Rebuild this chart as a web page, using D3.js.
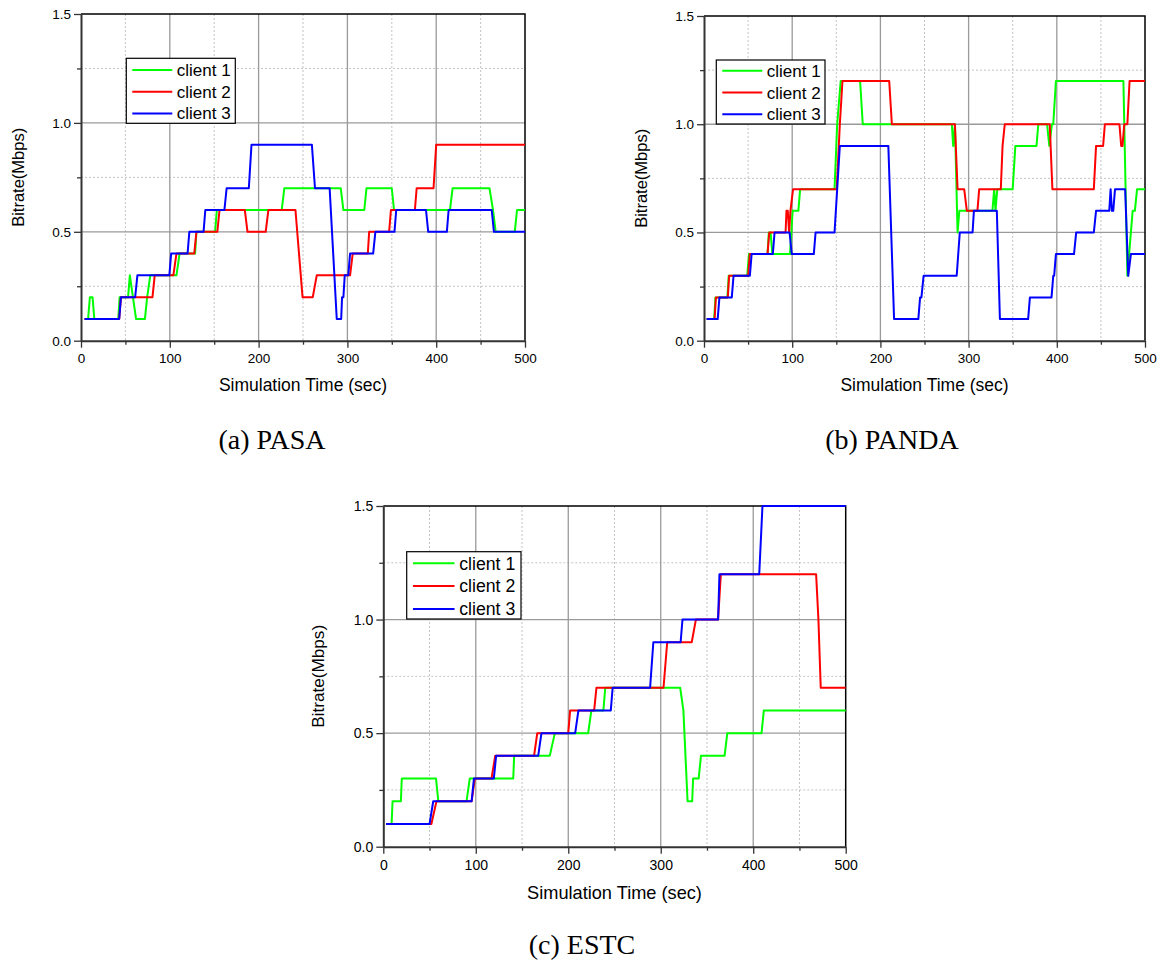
<!DOCTYPE html>
<html>
<head>
<meta charset="utf-8">
<script src="https://cdn.jsdelivr.net/npm/d3@7"></script>
<style>
  body { margin: 0; background: #fff; }
  svg { display: block; font-family: "Liberation Sans", Arial, sans-serif; }
  .caption { font-family: "Liberation Serif", "Times New Roman", serif; }
</style>
</head>
<body>
<svg id="fig" width="1164" height="963"></svg>
<script>

/* bitrate of three clients, three adaptation schemes */

// legend names and line colours

var clientNames = ["client 1", "client 2", "client 3"];
var clientColors = ["#00ff00", "#ff0000", "#0000ff"];

// tick values

var xTicks = [0, 100, 200, 300, 400, 500],
    xMinor = [50, 150, 250, 350, 450],
    yTicks = [0.0, 0.5, 1.0, 1.5],
    yMinor = [0.25, 0.75, 1.25];

// series: [time (sec), bitrate (Mbps)]

var pasa1 = [[4,0.1],[8,0.1],[10,0.2],[13,0.2],[15,0.1],[42,0.1],[43.5,0.2],[53,0.2],[55,0.3],[62,0.1],[72,0.1],
  [74.5,0.2],[78,0.3],[107.5,0.3],[111,0.4],[128.5,0.4],[130,0.5],[151,0.5],[153,0.6],[226,0.6],[229,0.7],
  [292.5,0.7],[295.5,0.6],[319,0.6],[321.5,0.7],[350,0.7],[352.5,0.6],[415.5,0.6],[418.5,0.7],[460,0.7],
  [464,0.6],[467,0.5],[488.5,0.5],[491,0.6],[500,0.6]];
var pasa2 = [[4,0.1],[43,0.1],[45,0.2],[80.5,0.2],[83,0.3],[104,0.3],[107.5,0.4],[127.5,0.4],[130,0.5],
  [153.5,0.5],[156,0.6],[184.5,0.6],[187.5,0.5],[208,0.5],[211,0.6],[241.5,0.6],[249.5,0.2],[261,0.2],
  [265.5,0.3],[303,0.3],[306,0.4],[323,0.4],[324.5,0.5],[347,0.5],[349,0.6],[376,0.6],[378,0.7],[397,0.7],
  [400,0.9],[500,0.9]];
var pasa3 = [[4,0.1],[43,0.1],[45,0.2],[61,0.2],[63.5,0.3],[99.5,0.3],[101.5,0.4],[120,0.4],[122,0.5],
  [138,0.5],[140,0.6],[161.5,0.6],[164,0.7],[189,0.7],[192,0.9],[260,0.9],[263.5,0.7],[280,0.7],[288,0.1],
  [293,0.1],[294,0.2],[295.5,0.2],[297,0.3],[301,0.3],[303,0.4],[329,0.4],[331.5,0.5],[353,0.5],[355,0.6],
  [388.5,0.6],[391,0.5],[412,0.5],[414,0.6],[462.5,0.6],[465,0.5],[500,0.5]];

var panda1 = [[3,0.1],[11.5,0.1],[13,0.2],[26.5,0.2],[28,0.3],[49,0.3],[51,0.4],[72,0.4],[73.5,0.5],
  [75.5,0.5],[77.5,0.4],[97.5,0.4],[100.5,0.6],[107,0.6],[109,0.7],[148,0.7],[151,1.0],[155,1.2],[177,1.2],
  [180,1.0],[281,1.0],[282.5,0.9],[284.5,1.0],[287.5,0.5],[289.5,0.6],[327,0.6],[329,0.7],[330.5,0.6],
  [332.5,0.7],[350,0.7],[353,0.9],[377,0.9],[379,1.0],[389,1.0],[391.5,0.9],[394.5,1.0],[396,1.0],[399,1.2],
  [475.5,1.2],[480,0.3],[484,0.5],[486,0.6],[488.5,0.6],[491,0.7],[500,0.7]];
var panda2 = [[3,0.1],[12,0.1],[13.5,0.2],[27,0.2],[28.5,0.3],[50,0.3],[52,0.4],[72,0.4],[74,0.5],
  [92.5,0.5],[93.5,0.6],[95,0.6],[96.5,0.5],[98,0.6],[101,0.7],[150.5,0.7],[154,1.0],[157,1.2],[210,1.2],
  [213,1.0],[284.5,1.0],[287.5,0.7],[295,0.7],[298,0.6],[310,0.6],[312,0.7],[336.5,0.7],[338.5,0.9],
  [341,1.0],[392,1.0],[395,0.7],[442,0.7],[444.5,0.9],[452.5,0.9],[454.5,1.0],[471,1.0],[473,0.9],
  [474.5,0.9],[476.5,1.0],[480,1.0],[482.5,1.2],[500,1.2]];
var panda3 = [[3,0.1],[15.5,0.1],[17.5,0.2],[31.5,0.2],[33.5,0.3],[52,0.3],[54,0.4],[78,0.4],[80,0.5],
  [97,0.5],[99.5,0.4],[124.5,0.4],[126.5,0.5],[148,0.5],[154,0.9],[209,0.9],[215.5,0.1],[243,0.1],[245,0.2],
  [246.5,0.2],[249,0.3],[286.5,0.3],[290,0.5],[304.5,0.5],[306,0.6],[332,0.6],[335.5,0.1],[367.5,0.1],
  [369.5,0.2],[394,0.2],[396,0.3],[397,0.3],[399,0.4],[419.5,0.4],[422,0.5],[442,0.5],[444.5,0.6],
  [459.5,0.6],[461,0.7],[462.5,0.6],[464,0.6],[466,0.7],[477.5,0.7],[481,0.3],[484,0.4],[500,0.4]];

var estc1 = [[3,0.1],[9,0.1],[10,0.2],[19,0.2],[20,0.3],[57,0.3],[59.5,0.2],[90,0.2],[93.5,0.3],
  [140.5,0.3],[141.5,0.4],[180,0.4],[185.5,0.5],[221.5,0.5],[225,0.6],[238,0.6],[240,0.7],[321,0.7],
  [324.5,0.6],[329,0.2],[334,0.2],[335,0.3],[341,0.3],[343.5,0.4],[369,0.4],[372,0.5],[409,0.5],
  [411.5,0.6],[500,0.6]];
var estc2 = [[3,0.1],[52,0.1],[57.5,0.2],[95.5,0.2],[99,0.3],[117,0.3],[121,0.4],[163,0.4],[166.5,0.5],
  [200,0.5],[202,0.6],[228,0.6],[230.5,0.7],[303,0.7],[307,0.9],[333.5,0.9],[338,1.0],[362,1.0],[365,1.2],
  [468,1.2],[470.5,1.0],[473,0.7],[500,0.7]];
var estc3 = [[3,0.1],[50,0.1],[54,0.2],[95.5,0.2],[98,0.3],[119.5,0.3],[122,0.4],[167.5,0.4],[171,0.5],
  [207.5,0.5],[211,0.6],[246,0.6],[248,0.7],[288.5,0.7],[292,0.9],[321.5,0.9],[323.5,1.0],[362,1.0],
  [363.5,1.2],[406.5,1.2],[410,1.5],[500,1.5]];

var svg = d3.select("#fig");

function drawPanel(p) {

  var k = p.k;

  // scales

  var x = d3.scaleLinear().domain([0, 500]).range([p.left, p.right]);
  var y = d3.scaleLinear().domain([0, 1.5]).range([p.bottom, p.top]);

  var g = svg.append("g");

  // grid, minor dotted first then major solid

  g.selectAll(".vmin").data(xMinor).enter().append("line")
    .attr("x1", function(d) { return x(d); }).attr("x2", function(d) { return x(d); })
    .attr("y1", p.top).attr("y2", p.bottom)
    .attr("stroke", "#c4c4c4").attr("stroke-width", 1).attr("stroke-dasharray", "2,2");

  g.selectAll(".hmin").data(yMinor).enter().append("line")
    .attr("y1", function(d) { return y(d); }).attr("y2", function(d) { return y(d); })
    .attr("x1", p.left).attr("x2", p.right)
    .attr("stroke", "#c4c4c4").attr("stroke-width", 1).attr("stroke-dasharray", "2,2");

  g.selectAll(".vmaj").data(xTicks.slice(1, -1)).enter().append("line")
    .attr("x1", function(d) { return x(d); }).attr("x2", function(d) { return x(d); })
    .attr("y1", p.top).attr("y2", p.bottom)
    .attr("stroke", "#9a9a9a").attr("stroke-width", 1.3);

  g.selectAll(".hmaj").data(yTicks.slice(1, -1)).enter().append("line")
    .attr("y1", function(d) { return y(d); }).attr("y2", function(d) { return y(d); })
    .attr("x1", p.left).attr("x2", p.right)
    .attr("stroke", "#9a9a9a").attr("stroke-width", 1.3);

  // top and right frame

  g.append("path")
    .attr("d", "M" + p.left + "," + p.top + "H" + p.right + "V" + p.bottom)
    .attr("fill", "none").attr("stroke", "#000").attr("stroke-width", 1.5);

  // axes

  var xAxis = g.append("g")
    .attr("transform", "translate(0," + p.bottom + ")")
    .call(d3.axisBottom(x).tickValues(xTicks).tickSize(7).tickPadding(6).tickSizeOuter(0).tickFormat(d3.format("d")));
  g.append("g")
    .attr("transform", "translate(0," + p.bottom + ")")
    .call(d3.axisBottom(x).tickValues(xMinor).tickSize(4).tickSizeOuter(0).tickFormat(""))
    .select(".domain").remove();

  var yAxis = g.append("g")
    .attr("transform", "translate(" + p.left + ",0)")
    .call(d3.axisLeft(y).tickValues(yTicks).tickSize(7).tickPadding(3).tickSizeOuter(0).tickFormat(d3.format(".1f")));
  g.append("g")
    .attr("transform", "translate(" + p.left + ",0)")
    .call(d3.axisLeft(y).tickValues(yMinor).tickSize(4).tickSizeOuter(0).tickFormat(""))
    .select(".domain").remove();

  g.selectAll(".domain").attr("stroke", "#333").attr("stroke-width", 2);
  g.selectAll(".tick line").attr("stroke", "#333").attr("stroke-width", 1.3);
  g.selectAll(".tick text")
    .attr("fill", "#000")
    .style("font-family", "'Liberation Sans', Arial, sans-serif")
    .style("font-size", (13.5 * k) + "px");

  // axis titles

  g.append("text")
    .attr("x", (p.left + p.right) / 2)
    .attr("y", p.bottom + 50 * k)
    .attr("text-anchor", "middle")
    .style("font-size", (17.5 * k) + "px")
    .text("Simulation Time (sec)");

  g.append("text")
    .attr("transform", "translate(" + (p.left - 57 * k) + "," + ((p.top + p.bottom) / 2) + ") rotate(-90)")
    .attr("text-anchor", "middle")
    .style("font-size", (16.5 * k) + "px")
    .text("Bitrate(Mbps)");

  // series: client 1 at the bottom, client 3 on top

  var line = d3.line()
    .x(function(d) { return x(d[0]); })
    .y(function(d) { return y(d[1]); });

  g.selectAll(".series").data(p.series).enter().append("path")
    .attr("class", "series")
    .attr("d", line)
    .attr("fill", "none")
    .attr("stroke", function(d, i) { return clientColors[i]; })
    .attr("stroke-width", 2)
    .attr("stroke-linejoin", "round");

  // legend

  var lg = g.append("g").attr("transform", "translate(" + p.legX + "," + p.legY + ")");

  lg.append("rect")
    .attr("width", p.legW).attr("height", p.legH)
    .attr("fill", "#fff").attr("stroke", "#000").attr("stroke-width", 1.2);

  clientNames.forEach(function(name, i) {
    var ry = p.legRow0 + i * p.legStep;
    lg.append("line")
      .attr("x1", 6 * k).attr("x2", 46 * k).attr("y1", ry).attr("y2", ry)
      .attr("stroke", clientColors[i]).attr("stroke-width", 2);
    lg.append("text")
      .attr("x", 50.5 * k).attr("y", ry + 6 * k)
      .style("font-size", (17 * k) + "px")
      .text(name);
  });

  // caption

  svg.append("text")
    .attr("class", "caption")
    .attr("x", p.capX).attr("y", p.capY)
    .attr("text-anchor", "middle")
    .style("font-size", "28px")
    .text(p.caption);
}

drawPanel({ left: 81, right: 525, top: 14, bottom: 340.7, k: 1,
  series: [pasa1, pasa2, pasa3],
  legX: 126.3, legY: 58.3, legW: 109, legH: 65, legRow0: 11.7, legStep: 21.7,
  caption: "(a) PASA", capX: 272, capY: 449 });

drawPanel({ left: 704, right: 1145, top: 16, bottom: 340.7, k: 1,
  series: [panda1, panda2, panda3],
  legX: 716.3, legY: 60, legW: 108.7, legH: 64, legRow0: 10.7, legStep: 21.8,
  caption: "(b) PANDA", capX: 892, capY: 448.5 });

drawPanel({ left: 383.3, right: 845.7, top: 506, bottom: 846.7, k: 1.04,
  series: [estc1, estc2, estc3],
  legX: 406.7, legY: 551.7, legW: 114.3, legH: 67.3, legRow0: 11.6, legStep: 22.8,
  caption: "(c) ESTC", capX: 582, capY: 953.5 });

</script>
</body>
</html>
